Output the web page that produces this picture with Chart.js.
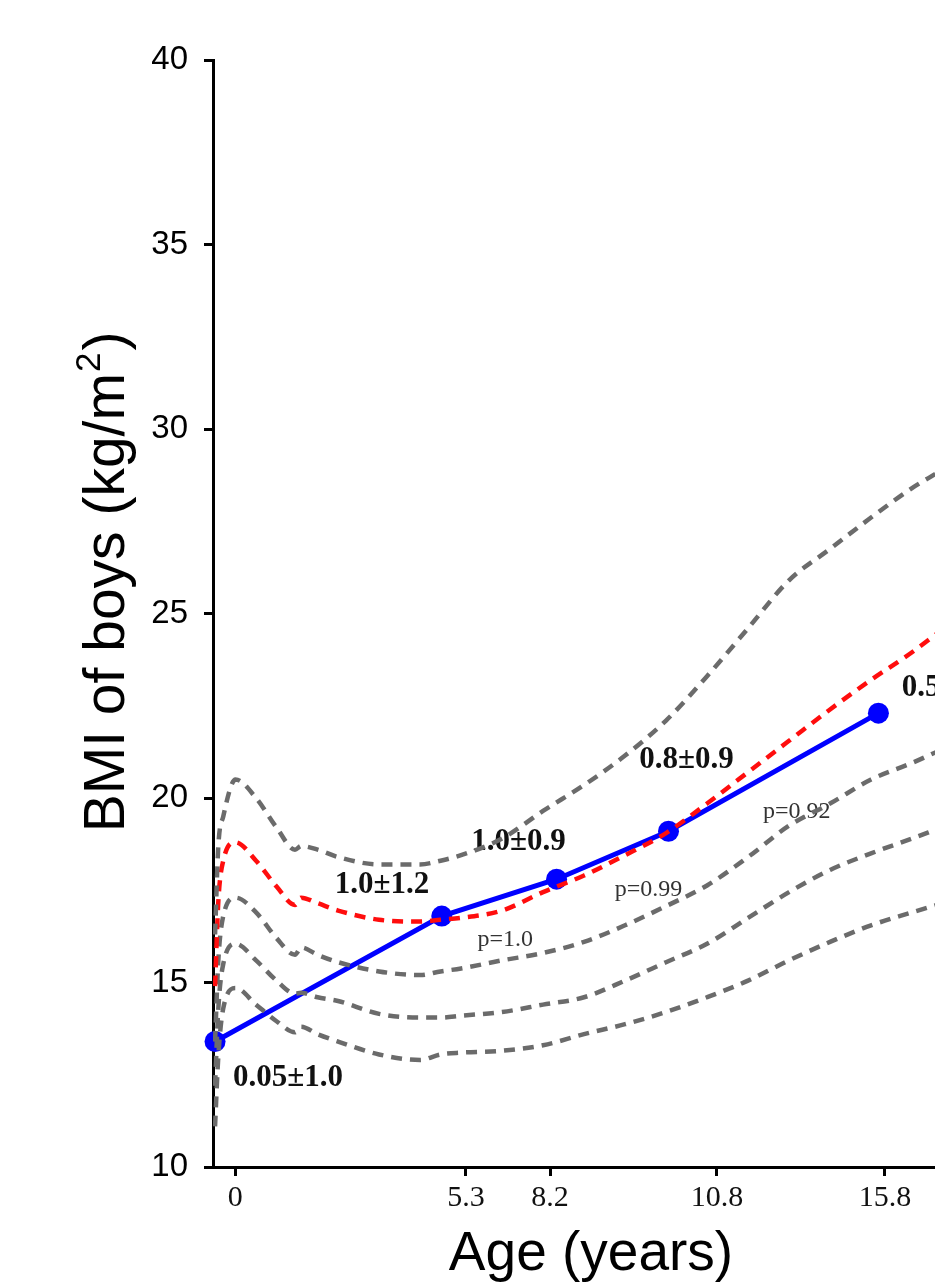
<!DOCTYPE html>
<html>
<head>
<meta charset="utf-8">
<title>BMI of boys</title>
<script src="https://cdn.jsdelivr.net/npm/chart.js@4.4.1/dist/chart.umd.min.js"></script>
<style>
  html, body { margin: 0; padding: 0; background: #fff; }
  #wrap { width: 935px; height: 1286px; }
</style>
</head>
<body>
<div id="wrap"><canvas id="bmi" width="935" height="1286"></canvas></div>
<script>
// reference curves (age in years, BMI in kg/m2)
const curveAges = [0, 0.08, 0.2, 0.5, 1, 1.5, 1.95, 2.1, 2.5, 3, 4, 5, 5.5, 6, 7, 8, 9, 10, 11, 12, 13, 14, 15, 16, 17, 17.6];
const sdPlus2  = [16.3, 18.7, 19.5, 20.5, 20.0, 19.2, 18.6, 18.7, 18.6, 18.4, 18.2, 18.2, 18.3, 18.45, 18.9, 19.65, 20.35, 21.15, 22.1, 23.3, 24.6, 25.9, 26.75, 27.6, 28.4, 28.8];
const sdPlus1  = [14.9, 17.2, 18.3, 18.8, 18.3, 17.6, 17.1, 17.3, 17.15, 16.95, 16.7, 16.65, 16.7, 16.75, 16.95, 17.45, 17.9, 18.45, 19.05, 19.85, 20.7, 21.55, 22.4, 23.2, 23.95, 24.45];
const median   = [13.4, 15.6, 16.8, 17.3, 16.9, 16.2, 15.75, 15.95, 15.75, 15.55, 15.3, 15.2, 15.3, 15.38, 15.6, 15.8, 16.1, 16.55, 17.07, 17.63, 18.4, 19.25, 19.85, 20.5, 20.95, 21.25];
const sdMinus1 = [12.2, 14.3, 15.5, 16.05, 15.6, 15.05, 14.7, 14.72, 14.6, 14.5, 14.15, 14.05, 14.05, 14.1, 14.2, 14.4, 14.6, 15.05, 15.55, 16.05, 16.75, 17.45, 18.05, 18.5, 18.9, 19.15];
const sdMinus2 = [11.1, 13.0, 14.3, 14.85, 14.4, 13.95, 13.65, 13.8, 13.6, 13.4, 13.05, 12.9, 13.05, 13.1, 13.15, 13.3, 13.6, 13.87, 14.2, 14.6, 15.05, 15.6, 16.1, 16.55, 16.9, 17.1];

// study group means
const groupAges = [0, 5.53, 8.33, 11.06, 16.18];
const groupBmi  = [13.4, 16.8, 17.8, 19.1, 22.3];
const zScores   = ['0.05±1.0', '1.0±1.2', '1.0±0.9', '0.8±0.9', '0.5±1.0'];
const pValues   = ['p=1.0', 'p=0.99', 'p=0.92'];

// axis ticks
const tickAges   = [0.49, 6.12, 8.17, 12.24, 16.34];
const tickLabels = ['0', '5.3', '8.2', '10.8', '15.8'];
const yTicks     = [10, 15, 20, 25, 30, 35, 40];

// where the annotations sit (data coords, text centre)
const zAt = [[1.78, 12.4], [4.07, 17.64], [7.4, 18.82], [11.5, 21.03], [17.9, 22.98]];
const pAt = [[7.08, 16.15], [10.57, 17.51], [14.19, 19.62]];

const GREY = '#6b6b6b';

function curve(vals, color) {
  return {
    data: curveAges.map((a, i) => ({ x: a, y: vals[i] })),
    borderColor: color,
    borderWidth: 4.5,
    borderDash: [11, 8],
    pointRadius: 0,
    cubicInterpolationMode: 'monotone',
    fill: false
  };
}

const annotate = {
  id: 'annotate',
  beforeDatasetsDraw(chart) {
    const { ctx, scales: { x, y } } = chart;
    ctx.save();
    ctx.textAlign = 'center';
    ctx.textBaseline = 'middle';
    ctx.fillStyle = '#111';
    ctx.font = 'bold 31px "Liberation Serif", "Times New Roman", serif';
    zScores.forEach((t, i) => {
      ctx.fillText(t, x.getPixelForValue(zAt[i][0]), y.getPixelForValue(zAt[i][1]));
    });
    ctx.fillStyle = '#333';
    ctx.font = '24px "Liberation Serif", "Times New Roman", serif';
    pValues.forEach((t, i) => {
      ctx.fillText(t, x.getPixelForValue(pAt[i][0]), y.getPixelForValue(pAt[i][1]));
    });
    ctx.restore();
  },
  afterDraw(chart) {
    const ctx = chart.ctx;
    ctx.save();
    ctx.fillStyle = '#000';
    // x title
    ctx.font = '55px "Liberation Sans", Arial, sans-serif';
    ctx.textAlign = 'center';
    ctx.textBaseline = 'alphabetic';
    ctx.fillText('Age (years)', 591, 1270);
    // y title with superscript 2
    const big = '57px "Liberation Sans", Arial, sans-serif';
    const small = '35px "Liberation Sans", Arial, sans-serif';
    const main = 'BMI of boys (kg/m';
    ctx.font = big;
    const w1 = ctx.measureText(main).width;
    const w3 = ctx.measureText(')').width;
    ctx.font = small;
    const w2 = ctx.measureText('2').width;
    const total = w1 + w2 + w3 + 3;
    ctx.translate(124, 582);
    ctx.rotate(-Math.PI / 2);
    ctx.textAlign = 'left';
    let px = -total / 2;
    ctx.font = big;
    ctx.fillText(main, px, 0);
    px += w1;
    ctx.font = small;
    ctx.fillText('2', px + 1, -24);
    px += w2 + 3;
    ctx.font = big;
    ctx.fillText(')', px, 0);
    ctx.restore();
  }
};

const axisGrid = { display: true, drawOnChartArea: false, drawTicks: true, tickLength: 9, lineWidth: 3, color: '#000' };
const axisBorder = { display: true, color: '#000', width: 3 };

new Chart(document.getElementById('bmi'), {
  type: 'line',
  data: {
    datasets: [
      curve(sdPlus2, GREY),
      curve(sdPlus1, '#ff0d0d'),
      curve(median, GREY),
      curve(sdMinus1, GREY),
      curve(sdMinus2, GREY),
      {
        data: groupAges.map((a, i) => ({ x: a, y: groupBmi[i] })),
        borderColor: '#0000ff',
        backgroundColor: '#0000ff',
        borderWidth: 5,
        pointRadius: 10.5,
        pointBorderWidth: 0,
        tension: 0,
        clip: false
      }
    ]
  },
  options: {
    responsive: false,
    animation: false,
    devicePixelRatio: 1,
    events: [],
    layout: { autoPadding: false, padding: { top: 60, left: 0, right: 0, bottom: 0 } },
    plugins: { legend: { display: false }, tooltip: { enabled: false } },
    scales: {
      x: {
        type: 'linear',
        min: -0.05,
        max: 17.56,
        afterBuildTicks: s => { s.ticks = tickAges.map(v => ({ value: v })); },
        afterFit: s => { s.height = 119; s.paddingLeft = 0; s.paddingRight = 0; },
        ticks: {
          callback: (v, i) => tickLabels[i],
          font: { family: '"Liberation Serif", "Times New Roman", serif', size: 30 },
          color: '#111',
          padding: 4,
          maxRotation: 0,
          autoSkip: false
        },
        grid: axisGrid,
        border: axisBorder
      },
      y: {
        min: 10,
        max: 40,
        afterBuildTicks: s => { s.ticks = yTicks.map(v => ({ value: v })); },
        afterFit: s => { s.width = 213; },
        ticks: {
          font: { family: '"Liberation Sans", Arial, sans-serif', size: 33 },
          color: '#000',
          padding: 16
        },
        grid: axisGrid,
        border: axisBorder
      }
    }
  },
  plugins: [annotate]
});
</script>
</body>
</html>
